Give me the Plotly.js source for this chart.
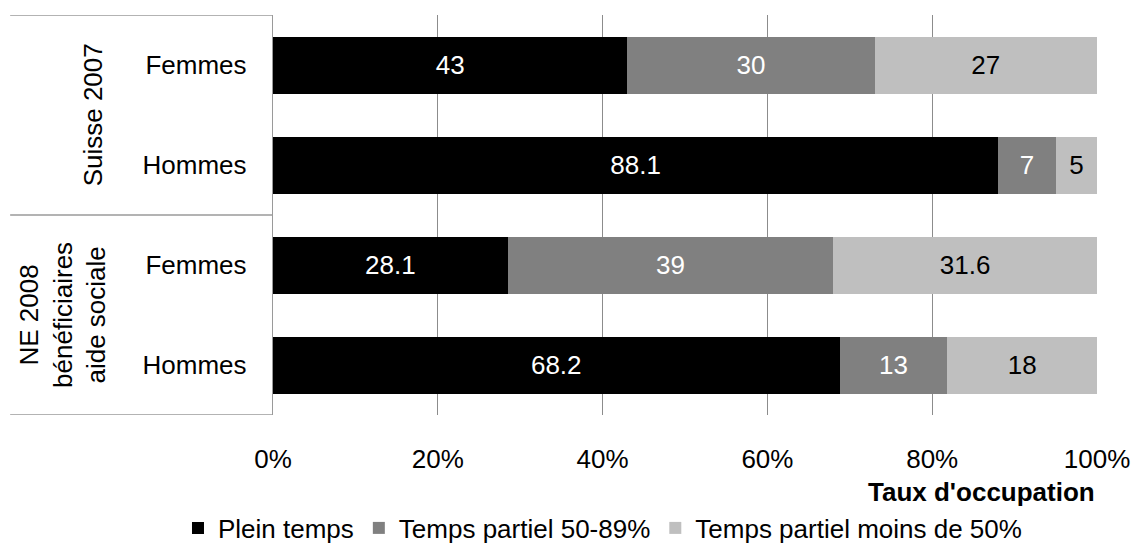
<!DOCTYPE html>
<html>
<head>
<meta charset="utf-8">
<script src="https://cdn.plot.ly/plotly-3.0.1.min.js"></script>
<style>
  html, body { margin: 0; padding: 0; background: #fff; }
  #chart { width: 1133px; height: 545px; }
</style>
</head>
<body>
<div id="chart"></div>
<script>
// Row structure: group name per row and the sex shown as the tick label
const groups = ["Suisse 2007", "Suisse 2007", "NE 2008 bénéficiaires aide sociale", "NE 2008 bénéficiaires aide sociale"];
const sexes = ["Femmes", "Hommes", "Femmes", "Hommes"];
const rowKeys = ["suisse-f", "suisse-h", "ne-f", "ne-h"];

// Group labels drawn in the left-hand table
const groupLabels = ["Suisse 2007", "NE 2008<br>bénéficiaires<br>aide sociale"];
const groupCenters = [0.5, 2.5];
const groupBounds = [-0.5, 1.5, 3.5];

// Series values (shares, normalised to 100% per row)
const pleinTemps = [43, 88.1, 28.1, 68.2];
const partiel5089 = [30, 7, 39, 13];
const partielMoins50 = [27, 5, 31.6, 18];

const seriesNames = ["Plein temps", "Temps partiel 50-89%", "Temps partiel moins de 50%"];
const seriesValues = [pleinTemps, partiel5089, partielMoins50];
const seriesColors = ["#000000", "#808080", "#bfbfbf"];
const labelColors = ["#ffffff", "#ffffff", "#000000"];

const xTicks = [0, 20, 40, 60, 80, 100];
const xTitle = "Taux d'occupation";

const FONT = "Liberation Sans, Arial, sans-serif";
const FS = 26;

const traces = seriesNames.map((name, i) => ({
  type: "bar",
  orientation: "h",
  name: name,
  y: rowKeys,
  x: seriesValues[i],
  text: seriesValues[i].map(String),
  texttemplate: "%{text}",
  textposition: "inside",
  insidetextanchor: "middle",
  textangle: 0,
  textfont: { family: FONT, size: FS, color: labelColors[i] },
  marker: { color: seriesColors[i], line: { width: 0 } },
  hoverinfo: "skip"
}));

const LINE = "#9a9a9a";
const shapes = groupBounds.map(y => ({
  type: "line", xref: "paper", yref: "y",
  x0: -0.319, x1: 0, y0: y, y1: y,
  line: { color: LINE, width: 1.3 }
}));

const annotations = groupLabels.map((t, i) => ({
  text: t,
  xref: "paper", yref: "y",
  x: i === 0 ? -0.218 : -0.255, y: groupCenters[i],
  xanchor: "center", yanchor: "middle",
  textangle: -90,
  showarrow: false,
  align: "center",
  font: { family: FONT, size: FS, color: "#000" }
}));

annotations.push({
  text: "<b>" + xTitle + "</b>",
  xref: "paper", yref: "paper",
  x: 1, y: -0.1925,
  xanchor: "right", yanchor: "middle",
  showarrow: false,
  font: { family: FONT, size: FS, color: "#000" }
});

const layout = {
  width: 1133, height: 545,
  margin: { l: 273, r: 36, t: 15, b: 130, autoexpand: false },
  paper_bgcolor: "#fff", plot_bgcolor: "#fff",
  barmode: "stack",
  barnorm: "percent",
  bargap: 0.43,
  font: { family: FONT, size: FS, color: "#000" },
  showlegend: true,
  legend: {
    orientation: "h",
    xref: "paper", yref: "paper",
    x: -0.1153, y: -0.2825, xanchor: "left", yanchor: "middle",
    font: { family: FONT, size: FS, color: "#000" },
    traceorder: "normal",
    itemclick: false
  },
  xaxis: {
    range: [0, 100],
    tickvals: xTicks,
    ticktext: xTicks.map(v => v + "%"),
    showgrid: true, gridcolor: "#8c8c8c", gridwidth: 1.3,
    zeroline: false, showline: false,
    ticks: "", ticklabelstandoff: 26,
    tickfont: { family: FONT, size: FS, color: "#000" },
    fixedrange: true
  },
  yaxis: {
    type: "category",
    categoryorder: "array",
    categoryarray: rowKeys,
    tickvals: rowKeys,
    ticktext: sexes,
    range: [3.5, -0.5],
    showgrid: false, zeroline: false,
    showline: true, linecolor: LINE, linewidth: 1.3,
    ticks: "", ticklabelstandoff: 20,
    tickfont: { family: FONT, size: FS, color: "#000" },
    fixedrange: true
  },
  shapes: shapes,
  annotations: annotations
};

Plotly.newPlot("chart", traces, layout, { staticPlot: true, displayModeBar: false });
</script>
</body>
</html>
